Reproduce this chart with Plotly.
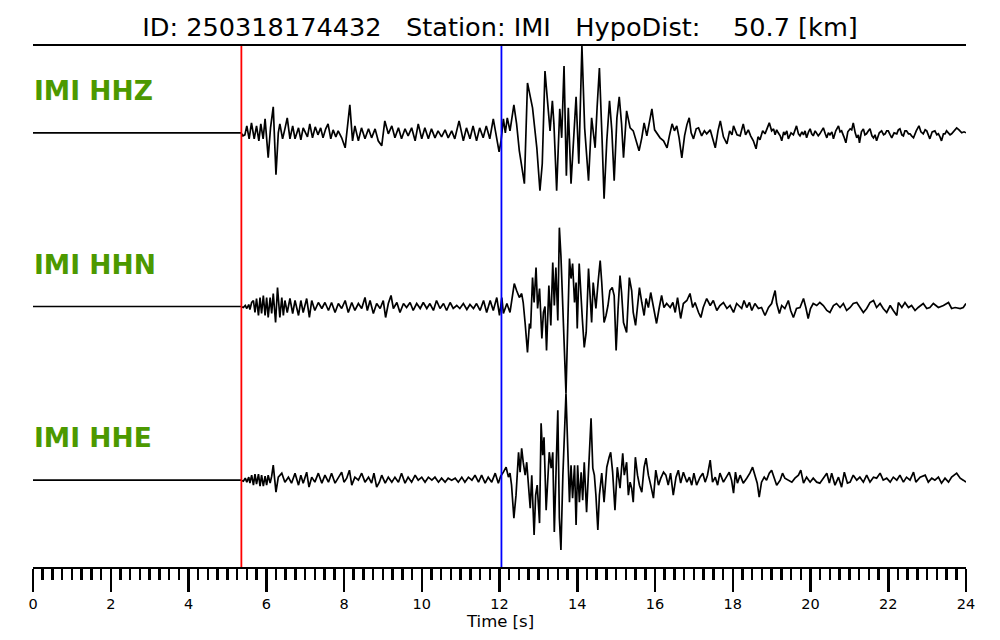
import plotly.graph_objects as go

# ---------------- data (time [s], relative amplitude) ----------------
title_text = "ID: 250318174432   Station: IMI   HypoDist:    50.7 [km]"
channels = ["IMI HHZ", "IMI HHN", "IMI HHE"]
p_pick = 5.36   # red line [s]
s_pick = 12.05  # blue line [s]
x_ticks = [0, 2, 4, 6, 8, 10, 12, 14, 16, 18, 20, 22, 24]

hhz = [
    (0.00, 0), (5.35, 0), (5.40, -3), (5.45, -2), (5.50, 7), (5.56, -6), (5.62, 10), (5.69, -6), (5.75, 7),
    (5.81, -8), (5.86, 9), (5.92, -6), (5.97, 14),
    (6.05, -25), (6.11, 5), (6.18, 26), (6.25, -42), (6.31, 0), (6.35, 9), (6.42, -6), (6.48, 4), (6.54, 15),
    (6.61, -6), (6.68, 7), (6.74, -6), (6.83, 5), (6.89, -7), (6.95, 5),
    (7.06, -4), (7.12, 9), (7.19, -5), (7.26, 6), (7.33, -2), (7.40, 5), (7.46, -5), (7.53, 4), (7.59, 9),
    (7.66, -6), (7.72, 3), (7.79, -4), (7.85, 2), (7.94, -5),
    (8.03, -15), (8.09, 10), (8.15, 28), (8.22, -8), (8.28, 7), (8.37, -8), (8.45, 5), (8.54, -6), (8.63, 4),
    (8.71, -5), (8.80, 4), (8.88, -8), (8.97, -13),
    (9.05, 12), (9.14, -1), (9.23, 7), (9.31, -5), (9.40, 5), (9.48, -6), (9.57, 4), (9.65, -3), (9.74, 5),
    (9.83, -8), (9.91, 9), (10.00, -6),
    (10.08, 5), (10.17, -6), (10.25, 4), (10.34, -5), (10.42, 2), (10.51, -4), (10.60, 3), (10.68, -5),
    (10.77, 2), (10.85, -6), (10.96, 12),
    (11.07, -8), (11.15, 5), (11.24, -6), (11.32, 7), (11.41, -8), (11.49, 5), (11.58, -5), (11.66, 7),
    (11.75, -6), (11.84, 14), (11.92, -5), (11.99, -19),
    (12.04, -8), (12.10, 14), (12.15, 0), (12.20, 15), (12.27, 2), (12.37, 28), (12.44, 9), (12.51, -18),
    (12.57, -33), (12.64, -51), (12.72, 50), (12.78, 39), (12.85, 25), (12.96, -15),
    (13.04, -58), (13.10, -31), (13.17, 62), (13.23, 34), (13.30, 2), (13.36, 32), (13.40, 9), (13.47, -58),
    (13.55, 24), (13.60, -5), (13.66, 67), (13.72, -43), (13.77, 25), (13.84, -51), (13.90, -11), (13.97, 36),
    (14.04, -31), (14.12, 87), (14.19, 5), (14.24, -21), (14.29, -48), (14.37, 15), (14.46, -15), (14.51, 25),
    (14.57, 65), (14.64, -8), (14.69, -66), (14.76, -8), (14.83, 32), (14.89, 2), (14.95, -48),
    (15.02, 15), (15.08, 36), (15.14, 9), (15.19, -25), (15.27, 22), (15.36, 5), (15.44, 2), (15.52, -8),
    (15.59, -18), (15.66, -5), (15.72, 10), (15.79, -3), (15.85, 8), (15.92, 24), (15.99, 3),
    (16.05, -1), (16.13, -5), (16.22, -8), (16.31, -15), (16.37, -3), (16.44, 9), (16.50, 2), (16.56, 7),
    (16.62, -5), (16.69, -25), (16.76, -3), (16.82, 8), (16.88, 15), (16.93, 0), (16.99, -6),
    (17.06, 4), (17.12, 5), (17.20, -3), (17.27, 2), (17.33, -1), (17.42, 3), (17.49, -8), (17.55, -15),
    (17.62, 2), (17.68, 12), (17.76, -4), (17.85, -11), (17.92, 2), (17.98, -2),
    (18.02, 7), (18.11, -2), (18.19, -3), (18.27, 9), (18.33, -2), (18.40, 3), (18.46, -3), (18.53, -8),
    (18.60, -16), (18.65, -4), (18.70, -7), (18.77, 2), (18.83, -1), (18.88, 4), (18.94, 10),
    (19.00, 2), (19.05, 4), (19.09, -2), (19.13, 3), (19.17, 0), (19.22, -3), (19.26, -8), (19.31, 1),
    (19.34, -2), (19.39, 2), (19.43, -6), (19.50, 0), (19.56, -2), (19.60, 3), (19.64, 7), (19.69, -1),
    (19.73, -3), (19.78, 1), (19.82, -2), (19.86, 2), (19.90, -5), (19.95, 1), (19.99, 4),
    (20.03, -1), (20.07, -3), (20.12, 2), (20.16, 0), (20.20, -3), (20.24, -1), (20.29, 2), (20.33, 5),
    (20.38, -1), (20.42, -5), (20.46, 0), (20.50, -2), (20.55, 1), (20.59, -6), (20.65, 2), (20.72, 7),
    (20.76, 1), (20.80, 2), (20.86, -4), (20.91, -10), (20.96, 1),
    (21.02, 4), (21.06, 3), (21.10, 10), (21.15, 0), (21.19, -5), (21.23, -2), (21.26, -10), (21.31, 1),
    (21.36, 4), (21.40, -2), (21.44, -1), (21.49, 2), (21.53, 4), (21.58, -3), (21.62, -5), (21.66, -2),
    (21.70, -8), (21.77, 0), (21.83, 2), (21.88, -2), (21.92, -1), (21.96, 2),
    (22.00, 2), (22.05, -2), (22.09, -5), (22.15, 0), (22.22, -1), (22.26, 3), (22.30, 4), (22.35, -2),
    (22.39, -3), (22.43, 2), (22.47, 2), (22.52, -1), (22.56, -1), (22.60, -3), (22.65, -5), (22.72, 2),
    (22.79, 7), (22.84, 1), (22.90, -1), (22.95, 3), (22.99, 2),
    (23.03, -2), (23.07, -6), (23.13, 1), (23.20, 2), (23.25, -2), (23.29, -1), (23.33, -4), (23.37, -8),
    (23.42, -1), (23.46, -1), (23.50, 2), (23.55, 0), (23.59, -2), (23.63, -1), (23.70, 2), (23.76, 5),
    (23.82, 3), (23.89, 0), (23.95, 1), (24.00, 0),
]

hhn = [
    (0.00, 0), (5.35, 0), (5.41, -1), (5.46, 1), (5.50, -2), (5.55, 2), (5.58, -3), (5.625, 4), (5.67, 6),
    (5.71, -6), (5.75, 8), (5.80, -9), (5.84, 9), (5.88, -7), (5.925, 11), (5.97, -9),
    (6.01, 9), (6.05, -11), (6.10, 9), (6.14, -7), (6.18, 13), (6.24, -16), (6.29, 19), (6.35, -11),
    (6.40, 9), (6.44, -9), (6.48, 6), (6.54, -6), (6.61, 8), (6.68, -7), (6.74, 6), (6.83, -9), (6.89, 6),
    (6.95, -6),
    (7.04, 8), (7.11, -11), (7.17, 6), (7.25, -4), (7.34, 4), (7.43, -2), (7.51, 4), (7.60, -4), (7.68, 4),
    (7.77, -6), (7.855, 3), (7.94, -2),
    (8.03, 6), (8.11, -6), (8.20, 4), (8.28, -4), (8.37, 3), (8.455, -2), (8.54, 9), (8.60, -4), (8.67, 6),
    (8.755, -7), (8.84, 3), (8.93, -2),
    (9.01, 6), (9.07, -11), (9.14, 3), (9.21, 11), (9.27, -2), (9.36, 4), (9.44, -6), (9.53, 3), (9.61, -1),
    (9.70, 4), (9.78, -4), (9.87, 3), (9.96, -2),
    (10.04, 4), (10.13, -2), (10.21, 3), (10.30, -4), (10.38, 6), (10.47, -2), (10.56, 3), (10.64, -4),
    (10.73, 4), (10.81, -2), (10.90, 1), (10.98, -2),
    (11.07, 3), (11.16, -3), (11.24, 2), (11.33, -2), (11.41, 3), (11.50, -4), (11.59, 6), (11.67, -6),
    (11.76, 6), (11.84, -4), (11.93, 9),
    (12.00, -9), (12.06, 9), (12.10, -7), (12.19, 3), (12.27, -6), (12.31, 6), (12.38, 23), (12.44, 16),
    (12.51, 9), (12.57, 13), (12.61, 4), (12.66, -17), (12.72, -46), (12.77, -17), (12.80, -22), (12.85, 29),
    (12.89, 4), (12.94, 39), (12.98, -2),
    (13.03, 18), (13.09, -32), (13.13, -6), (13.17, 0), (13.21, -44), (13.27, 21), (13.32, -19), (13.37, 44),
    (13.41, 1), (13.45, 39), (13.50, -14), (13.54, 79), (13.58, 51), (13.63, -4), (13.66, -46), (13.71, -87),
    (13.80, 48), (13.84, 28), (13.88, 43), (13.93, 4), (13.97, 24),
    (14.00, -22), (14.05, 43), (14.09, 11), (14.13, -12), (14.18, -41), (14.23, -26), (14.29, 38), (14.33, 8),
    (14.37, -16), (14.41, 24), (14.48, -2), (14.54, 26), (14.59, 46), (14.63, 24), (14.69, -16), (14.74, -9),
    (14.79, 1), (14.84, 16), (14.90, 19), (14.95, 11),
    (15.00, -44), (15.05, -2), (15.10, 31), (15.14, 14), (15.19, -16), (15.27, -26), (15.34, 29), (15.40, 16),
    (15.44, -6), (15.50, -19), (15.55, 1), (15.60, 19), (15.66, 4), (15.72, -9), (15.77, 8), (15.83, -1),
    (15.89, 14), (15.94, 4),
    (16.00, -6), (16.04, -17), (16.11, -1), (16.17, 11), (16.23, -1), (16.30, 3), (16.39, -1), (16.46, 4),
    (16.52, -6), (16.58, 9), (16.66, -12), (16.73, 3), (16.82, 6), (16.90, 13), (16.97, -1),
    (17.03, 4), (17.12, -6), (17.18, -11), (17.24, -1), (17.33, 8), (17.42, 1), (17.50, 6), (17.59, -4),
    (17.67, 1), (17.76, 4), (17.85, -2), (17.93, 1),
    (18.02, -6), (18.10, 3), (18.23, -2), (18.29, 6), (18.36, -1), (18.43, 4), (18.49, -4), (18.57, 3),
    (18.66, -2), (18.74, -1), (18.83, -9), (18.92, -1),
    (19.00, 3), (19.04, 9), (19.09, 16), (19.13, 3), (19.20, -7), (19.26, 1), (19.34, -2), (19.43, 6),
    (19.49, -4), (19.56, -11), (19.64, -2), (19.73, -1), (19.82, 8), (19.88, -1), (19.94, -12),
    (20.00, -2), (20.07, 3), (20.16, 1), (20.24, 4), (20.33, 1), (20.42, -4), (20.50, -6), (20.59, 1),
    (20.67, 3), (20.76, -1), (20.845, 3), (20.93, -4),
    (21.02, -1), (21.10, 3), (21.19, 4), (21.27, -1), (21.36, -6), (21.445, -2), (21.53, 4), (21.62, 6),
    (21.70, -1), (21.79, 3), (21.87, -2), (21.96, -6),
    (22.05, 1), (22.13, -4), (22.22, -9), (22.26, 4), (22.35, -1), (22.43, 4), (22.52, -1), (22.60, 1),
    (22.69, -4), (22.77, -1), (22.90, 3), (22.99, -2),
    (23.07, -1), (23.16, 3), (23.29, -1), (23.42, 1), (23.55, 4), (23.63, -2), (23.72, -1), (23.85, -2),
    (23.93, -1), (24.00, 3),
]

hhe = [
    (0.00, 0), (5.35, 0), (5.41, -1), (5.46, 2), (5.50, -2), (5.55, 3), (5.58, -3), (5.625, 5), (5.67, -5),
    (5.71, 6), (5.75, -4), (5.80, 6), (5.84, -6), (5.88, 5), (5.925, -6), (5.97, 4),
    (6.01, -5), (6.05, 5), (6.10, -3), (6.14, 4), (6.18, 15), (6.25, -12), (6.31, 3), (6.40, 7), (6.48, -2),
    (6.57, 3), (6.65, -3), (6.74, 7), (6.83, -5), (6.89, 5), (6.95, -3),
    (7.04, 8), (7.10, -7), (7.17, 3), (7.25, -2), (7.34, 7), (7.43, -3), (7.51, 5), (7.60, -2), (7.68, 7),
    (7.77, -3), (7.855, 3), (7.94, 8),
    (8.00, -2), (8.07, 2), (8.14, 10), (8.20, -5), (8.28, 3), (8.37, 0), (8.455, 7), (8.54, -2), (8.63, 3),
    (8.71, -3), (8.77, 7), (8.84, -7), (8.91, -2), (8.97, 5),
    (9.06, -3), (9.14, 3), (9.23, -2), (9.31, 3), (9.40, -2), (9.48, 7), (9.57, -3), (9.65, 3), (9.74, -2),
    (9.83, 5), (9.91, 0),
    (10.00, 3), (10.085, -2), (10.17, 3), (10.26, 0), (10.34, 3), (10.43, -2), (10.51, 2), (10.60, -2),
    (10.68, 2), (10.77, 0), (10.86, 2), (10.94, -2),
    (11.03, 3), (11.11, -2), (11.20, 3), (11.29, 0), (11.37, 5), (11.46, -2), (11.54, 5), (11.63, -3),
    (11.71, 3), (11.80, -2), (11.89, 7), (11.97, -3),
    (12.03, 4), (12.10, 8), (12.17, 13), (12.23, 3), (12.27, 7), (12.31, -5), (12.37, -38), (12.425, -15),
    (12.49, 28), (12.53, 8), (12.57, 32), (12.61, 18), (12.66, 5), (12.70, 18), (12.74, -8), (12.79, -28),
    (12.83, 5), (12.89, -55), (12.93, -15), (12.97, -5),
    (13.03, -43), (13.07, 57), (13.11, 25), (13.145, 43), (13.20, -30), (13.24, 7), (13.28, 28), (13.33, 12),
    (13.37, 28), (13.41, -52), (13.45, 0), (13.50, 70), (13.54, -38), (13.58, -70), (13.63, 5), (13.71, 87),
    (13.80, -22), (13.84, 15), (13.88, -18), (13.93, 15), (13.97, -45),
    (14.01, 15), (14.055, -22), (14.10, 8), (14.14, -20), (14.18, 18), (14.24, -32), (14.29, 5), (14.355, 62),
    (14.40, 12), (14.44, 5), (14.48, -15), (14.53, -50), (14.57, -15), (14.63, 7), (14.69, -22), (14.76, 13),
    (14.82, 23), (14.86, 28), (14.91, 8), (14.97, -30),
    (15.03, 13), (15.10, -8), (15.17, 27), (15.21, 5), (15.27, 18), (15.315, -15), (15.36, -2), (15.40, -8),
    (15.44, -22), (15.495, 23), (15.55, 5), (15.60, -5), (15.66, -12), (15.72, 13), (15.77, 22), (15.83, 5),
    (15.89, -5), (15.96, -18),
    (16.02, 10), (16.09, -5), (16.15, 2), (16.22, 8), (16.28, 5), (16.34, -5), (16.40, 7), (16.47, -15),
    (16.54, 3), (16.60, 10), (16.66, -3), (16.73, 8), (16.82, -2), (16.885, 3), (16.945, -5),
    (17.00, 7), (17.07, -5), (17.16, 3), (17.23, 7), (17.29, -2), (17.35, 5), (17.42, 20), (17.48, -2),
    (17.55, 3), (17.61, -5), (17.67, 7), (17.76, -2), (17.85, 5), (17.91, 8), (17.97, 0),
    (18.02, -13), (18.07, 8), (18.12, -3), (18.19, 5), (18.27, -3), (18.36, 2), (18.44, 7), (18.51, 13),
    (18.57, 5), (18.63, -3), (18.68, -17), (18.74, -2), (18.81, 3), (18.87, 0), (18.94, 7),
    (19.00, 10), (19.06, 3), (19.13, -5), (19.22, 0), (19.28, 7), (19.34, 2), (19.43, 0), (19.52, -2),
    (19.60, 2), (19.69, 5), (19.75, 10), (19.82, -3), (19.90, 3), (19.99, -2),
    (20.07, 2), (20.16, -2), (20.24, -3), (20.33, 2), (20.42, 7), (20.485, -3), (20.545, 7), (20.63, -5),
    (20.72, 3), (20.80, -7), (20.87, 8), (20.95, -3),
    (21.02, -2), (21.10, 5), (21.19, 0), (21.27, 3), (21.36, -2), (21.445, 5), (21.53, -2), (21.62, 3),
    (21.70, 2), (21.79, 7), (21.87, 0), (21.96, 2),
    (22.05, -2), (22.13, 3), (22.22, 0), (22.30, 5), (22.39, -2), (22.47, 3), (22.56, 0), (22.65, 8),
    (22.71, -2), (22.82, 3), (22.95, 5),
    (23.03, -2), (23.12, 2), (23.20, 0), (23.29, 3), (23.37, -3), (23.46, 2), (23.55, -2), (23.63, 3),
    (23.76, 7), (23.85, 2), (23.93, 0), (24.00, -2),
]

traces_data = [hhz, hhn, hhe]
offsets = [2.5, 1.5, 0.5]   # trace baselines (one unit per trace)

# ---------------- figure ----------------
fig = go.Figure()
for pairs, off in zip(traces_data, offsets):
    t = [p[0] for p in pairs]
    a = [p[1] for p in pairs]
    peak = max(abs(v) for v in a)
    y = [off + 0.5 * v / peak for v in a]
    fig.add_trace(go.Scatter(x=t, y=y, mode="lines",
                             line=dict(color="black", width=1.7),
                             hoverinfo="skip", showlegend=False))

for tp, col in [(p_pick, "#ff0000"), (s_pick, "#0000ff")]:
    fig.add_shape(type="line", xref="x", yref="paper", x0=tp, x1=tp, y0=0, y1=1,
                  line=dict(color=col, width=1.8))

for name, off in zip(channels, offsets):
    fig.add_annotation(text="<b>%s</b>" % name, xref="x", yref="y", x=0, y=off + 0.243,
                       xanchor="left", yanchor="middle", showarrow=False, borderpad=0,
                       font=dict(family="DejaVu Sans", size=26.5, color="#4c9900"))

fig.add_annotation(text="Time [s]", xref="paper", yref="paper", x=0.5, y=-0.105,
                   xanchor="center", yanchor="middle", showarrow=False, borderpad=0,
                   font=dict(family="DejaVu Sans", size=16.5, color="black"))

fig.update_layout(
    width=1000, height=640,
    margin=dict(l=33, r=34, t=46, b=73),
    paper_bgcolor="white", plot_bgcolor="white",
    title=dict(text=title_text.replace(" ", "\u00a0"), x=0.5, xanchor="center",
               y=1 - 27 / 640, yanchor="middle",
               font=dict(family="DejaVu Sans", size=25.6, color="black")),
    xaxis=dict(range=[0, 24], showgrid=False, zeroline=False,
               showline=True, linecolor="black", linewidth=2, mirror=True,
               ticks="outside", ticklen=23, tickwidth=2.5, tickcolor="black",
               tickmode="array", tickvals=x_ticks, ticktext=[str(v) for v in x_ticks],
               tickfont=dict(family="DejaVu Sans", size=14.5, color="black"),
               minor=dict(dtick=0.25, tick0=0, ticks="outside", ticklen=11,
                          tickwidth=2.5, tickcolor="black", showgrid=False)),
    yaxis=dict(range=[0, 3], visible=False, fixedrange=True),
)

fig.write_html("out.html", config={"displayModeBar": False, "staticPlot": True},
               post_script="document.body.style.margin='0px';document.body.style.overflow='hidden';")
